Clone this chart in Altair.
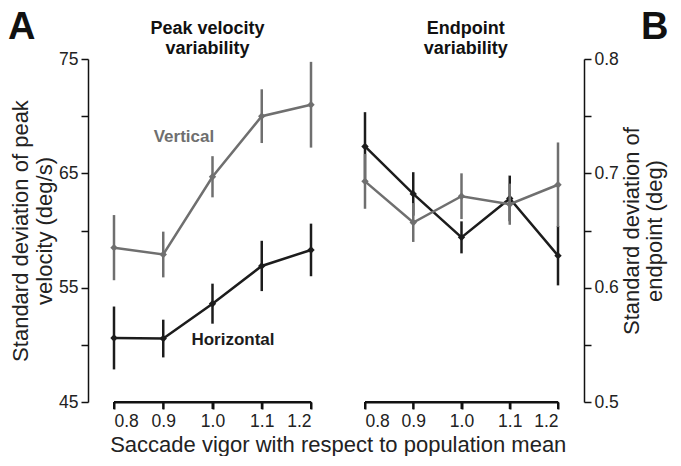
import altair as alt
import pandas as pd

vigor = [0.8, 0.9, 1.0, 1.1, 1.2]

pv_vert = [58.5, 57.9, 64.7, 70.0, 71.0]
pv_vert_err = [2.85, 2.0, 1.8, 2.35, 3.75]
pv_horz = [50.6, 50.55, 53.6, 56.9, 58.3]
pv_horz_err = [2.75, 1.65, 1.75, 2.2, 2.3]

ep_vert = [0.693, 0.657, 0.680, 0.673, 0.690]
ep_vert_err = [0.024, 0.017, 0.020, 0.018, 0.037]
ep_horz = [0.7235, 0.682, 0.644, 0.678, 0.628]
ep_horz_err = [0.030, 0.019, 0.014, 0.020, 0.026]

title_left = ["Peak velocity", "variability"]
title_right = ["Endpoint", "variability"]
series_names = ["Vertical", "Horizontal"]

GRAY = "#6f6f6f"
BLACK = "#1c1c1c"
AX = "#111111"
FONT = "Liberation Sans"
WL, WR, H = 197, 193, 343

xaxis = alt.Axis(title=None, values=vigor, format=".1f", grid=False,
                 ticks=True, domain=True, tickSize=7, labelPadding=3,
                 domainColor=AX, tickColor=AX, domainWidth=2, tickWidth=2)


def frame(vals, errs):
    return pd.DataFrame({
        "x": vigor,
        "m": vals,
        "lo": [v - e for v, e in zip(vals, errs)],
        "hi": [v + e for v, e in zip(vals, errs)],
    })


def X(xs):
    return alt.X("x:Q", scale=xs, axis=xaxis)


def series(df, color, xs, ys, yaxis):
    base = alt.Chart(df)
    rule = base.mark_rule(color=color, strokeWidth=2.5).encode(
        x=X(xs), y=alt.Y("lo:Q", scale=ys, axis=yaxis), y2="hi:Q")
    line = base.mark_line(color=color, strokeWidth=2.5).encode(
        x=X(xs), y=alt.Y("m:Q", scale=ys, axis=yaxis))
    pts = base.mark_point(shape="diamond", filled=True, opacity=1,
                          color=color, size=55).encode(
        x=X(xs), y=alt.Y("m:Q", scale=ys, axis=yaxis))
    return [rule, line, pts]


def text_layer(df, xs, ys, yaxis, **kw):
    return alt.Chart(df).mark_text(font=FONT, **kw).encode(
        x=X(xs), y=alt.Y("y:Q", scale=ys, axis=yaxis), text="t:N")


def x_axis_line(xs, ys, yaxis, ymin):
    dom = alt.Chart(pd.DataFrame({"x": [vigor[0]], "x2": [vigor[-1]],
                                  "y": [ymin]})).mark_rule(
        color=AX, strokeWidth=2).encode(
        x=X(xs), x2="x2:Q", y=alt.Y("y:Q", scale=ys, axis=yaxis))
    ticks = alt.Chart(pd.DataFrame({"x": vigor, "y": [ymin] * len(vigor)})).mark_rule(
        color=AX, strokeWidth=2, y2Offset=7).encode(
        x=X(xs), y=alt.Y("y:Q", scale=ys, axis=yaxis), y2="y:Q")
    return [dom, ticks]


xs1 = alt.Scale(domain=[0.8, 1.2], nice=False, zero=False)
xs2 = alt.Scale(domain=[0.8, 1.2], nice=False, zero=False)

# Left panel
ys1 = alt.Scale(domain=[45, 75], nice=False, zero=False)
axis_left = alt.Axis(
    title=["Standard deviation of peak", "velocity (deg/s)"],
    values=[45, 50, 55, 60, 65, 70, 75],
    labelExpr="datum.value % 10 == 5 ? datum.label : ''",
    offset=26, grid=False, titlePadding=2, labelPadding=3, tickSize=7)

ann_l = pd.DataFrame({"x": [0.942, 1.0416], "y": [68.2, 50.4],
                      "t": series_names, "c": series_names})
labels_l = alt.Chart(ann_l).mark_text(fontWeight="bold", fontSize=17,
                                      font=FONT).encode(
    x=X(xs1), y=alt.Y("y:Q", scale=ys1, axis=axis_left), text="t:N",
    color=alt.Color("c:N", scale=alt.Scale(domain=series_names,
                                           range=[GRAY, BLACK]), legend=None))
letter_a = text_layer(pd.DataFrame({"x": [0.585], "y": [79.4], "t": ["A"]}),
                      xs1, ys1, axis_left, fontWeight="bold", fontSize=38,
                      align="left", baseline="top", color="#111")
head_l = text_layer(pd.DataFrame({"x": [0.99, 0.99], "y": [77.2, 75.45],
                                  "t": title_left}),
                    xs1, ys1, axis_left, fontWeight="bold", fontSize=18,
                    baseline="alphabetic", color="#111")

left = alt.layer(
    *series(frame(pv_horz, pv_horz_err), BLACK, xs1, ys1, axis_left),
    *series(frame(pv_vert, pv_vert_err), GRAY, xs1, ys1, axis_left),
    labels_l, letter_a, head_l,
    *x_axis_line(xs1, ys1, axis_left, 45),
).properties(width=WL, height=H)

# Right panel
ys2 = alt.Scale(domain=[0.5, 0.8], nice=False, zero=False)
axis_right = alt.Axis(
    title=["Standard deviation of", "endpoint (deg)"],
    orient="right",
    values=[0.5, 0.55, 0.6, 0.65, 0.7, 0.75, 0.8],
    labelExpr="round(datum.value*100) % 10 == 0 ? format(datum.value, '.1f') : ''",
    offset=26, grid=False, titlePadding=2, labelPadding=3, titleAngle=270,
    tickSize=7, titleLineHeight=23)

letter_b = text_layer(pd.DataFrame({"x": [1.372], "y": [0.844], "t": ["B"]}),
                      xs2, ys2, axis_right, fontWeight="bold", fontSize=38,
                      align="left", baseline="top", color="#111")
head_r = text_layer(pd.DataFrame({"x": [1.009, 1.009], "y": [0.822, 0.8045],
                                  "t": title_right}),
                    xs2, ys2, axis_right, fontWeight="bold", fontSize=18,
                    baseline="alphabetic", color="#111")

right = alt.layer(
    *series(frame(ep_horz, ep_horz_err), BLACK, xs2, ys2, axis_right),
    *series(frame(ep_vert, ep_vert_err), GRAY, xs2, ys2, axis_right),
    letter_b, head_r,
    *x_axis_line(xs2, ys2, axis_right, 0.5),
).properties(width=WR, height=H)

chart = alt.hconcat(left, right, spacing=54, bounds="flush").resolve_scale(
    y="independent").properties(
    title=alt.TitleParams("Saccade vigor with respect to population mean",
                          orient="bottom", anchor="middle", fontSize=22,
                          fontWeight="normal", font=FONT, color="#222",
                          offset=5),
    padding=0,
).configure_view(stroke=None).configure_axis(
    labelFont=FONT, titleFont=FONT, labelFontSize=17.5, titleFontSize=22,
    titleFontWeight="normal", labelColor="#222", titleColor="#222",
    domainColor=AX, tickColor=AX, domainWidth=1.5, tickWidth=1.5,
    titleLineHeight=24,
)

chart.save("out.html", embed_options={"renderer": "svg", "actions": False})
